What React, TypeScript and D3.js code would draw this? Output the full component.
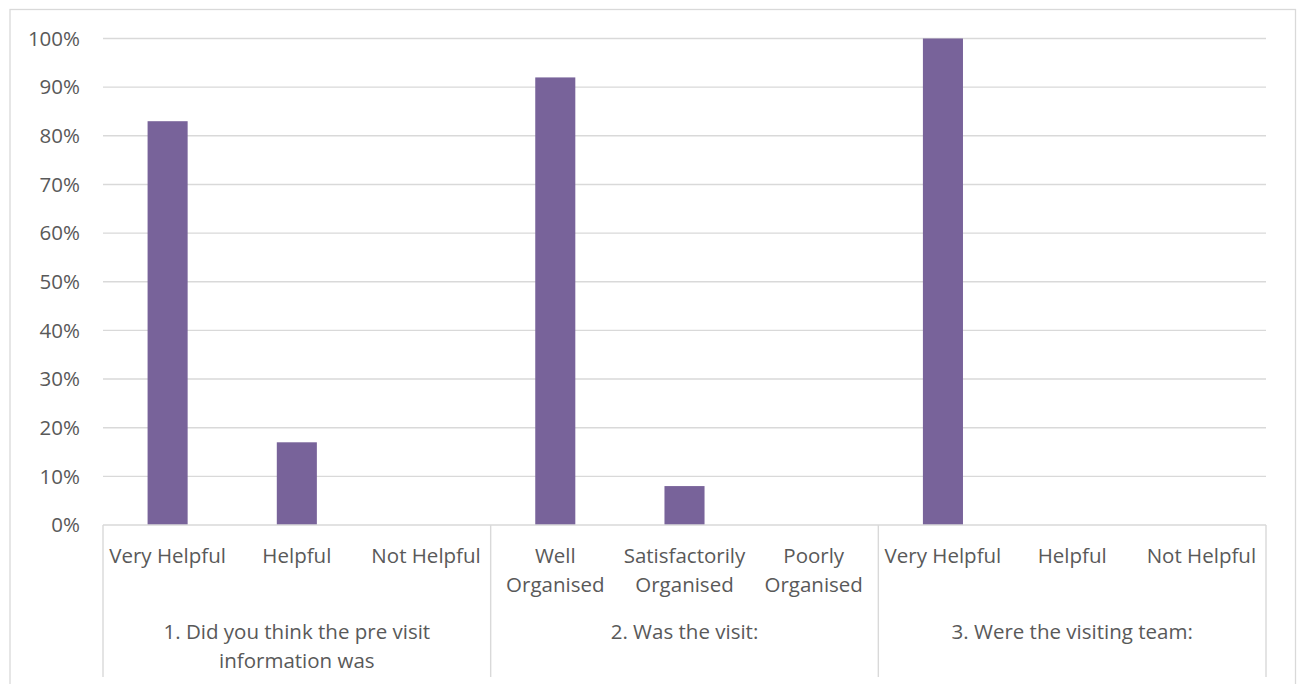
import React from "react";
import * as d3 from "d3";

// Survey results: share of responses per answer, grouped by question
const groups = [
  ["1. Did you think the pre visit", "information was"],
  ["2. Was the visit:"],
  ["3. Were the visiting team:"],
];
const categoryLabels = [
  ["Very Helpful"],
  ["Helpful"],
  ["Not Helpful"],
  ["Well", "Organised"],
  ["Satisfactorily", "Organised"],
  ["Poorly", "Organised"],
  ["Very Helpful"],
  ["Helpful"],
  ["Not Helpful"],
];
const categoryGroup = [0, 0, 0, 1, 1, 1, 2, 2, 2];
const values = [0.83, 0.17, 0, 0.92, 0.08, 0, 1.0, 0, 0];
const yTicks = [0, 0.1, 0.2, 0.3, 0.4, 0.5, 0.6, 0.7, 0.8, 0.9, 1.0];

const W = 1298;
const H = 684;
const plot = { left: 103, right: 1266, top: 38.5, bottom: 525 };
const axisBottom = 677;
const font = "'Open Sans', 'Liberation Sans', sans-serif";
const textColor = "#595959";
const gridColor = "#d9d9d9";
const barColor = "#78639a";

export default function App() {
  const ids = categoryLabels.map((_, i) => String(i));
  const x = d3
    .scaleBand<string>()
    .domain(ids)
    .range([plot.left, plot.right])
    .paddingInner(0.69)
    .paddingOuter(0.345);
  const y = d3.scaleLinear().domain([0, 1]).range([plot.bottom, plot.top]);
  const fmt = d3.format(".0%");
  const step = x.step();

  // group extents in pixel space
  const groupSpans = groups.map((_, g) => {
    const members = ids.filter((_, i) => categoryGroup[i] === g);
    const x0 = (x(members[0]) as number) - (step - x.bandwidth()) / 2;
    const x1 = x0 + step * members.length;
    return { x0, x1 };
  });
  const separators = [plot.left, ...groupSpans.map((s) => s.x1)];

  return (
    <svg
      width={W}
      height={H}
      style={{ position: "fixed", left: 0, top: 0, background: "#fff" }}
    >
      {/* chart frame */}
      <rect x={10} y={9.5} width={1285.5} height={H + 10} fill="#fff" stroke={gridColor} strokeWidth={1.3} />

      {/* horizontal gridlines */}
      {yTicks.slice(1).map((t) => (
        <line
          key={t}
          x1={plot.left}
          x2={plot.right}
          y1={y(t)}
          y2={y(t)}
          stroke={gridColor}
          strokeWidth={1.4}
        />
      ))}

      {/* y tick labels */}
      {yTicks.map((t) => (
        <text
          key={t}
          x={80}
          y={y(t) + 7.3}
          textAnchor="end"
          fontFamily={font}
          fontSize={20.5}
          fill={textColor}
        >
          {fmt(t)}
        </text>
      ))}

      {/* bars */}
      {values.map((v, i) =>
        v > 0 ? (
          <rect
            key={i}
            x={x(ids[i])}
            y={y(v)}
            width={x.bandwidth()}
            height={y(0) - y(v)}
            fill={barColor}
          />
        ) : null
      )}

      {/* category axis line and group separators */}
      <line x1={plot.left} x2={plot.right} y1={plot.bottom} y2={plot.bottom} stroke={gridColor} strokeWidth={1.4} />
      {separators.map((sx, i) => (
        <line key={i} x1={sx} x2={sx} y1={plot.bottom} y2={axisBottom} stroke={gridColor} strokeWidth={1.4} />
      ))}

      {/* category labels */}
      {categoryLabels.map((lines, i) => (
        <text
          key={i}
          x={(x(ids[i]) as number) + x.bandwidth() / 2}
          y={563.3}
          textAnchor="middle"
          fontFamily={font}
          fontSize={20.5}
          fill={textColor}
        >
          {lines.map((ln, j) => (
            <tspan key={j} x={(x(ids[i]) as number) + x.bandwidth() / 2} dy={j === 0 ? 0 : 29}>
              {ln}
            </tspan>
          ))}
        </text>
      ))}

      {/* group labels */}
      {groups.map((lines, g) => {
        const cx = (groupSpans[g].x0 + groupSpans[g].x1) / 2;
        return (
          <text
            key={g}
            x={cx}
            y={639.3}
            textAnchor="middle"
            fontFamily={font}
            fontSize={20.5}
            fill={textColor}
          >
            {lines.map((ln, j) => (
              <tspan key={j} x={cx} dy={j === 0 ? 0 : 28.4}>
                {ln}
              </tspan>
            ))}
          </text>
        );
      })}
    </svg>
  );
}
